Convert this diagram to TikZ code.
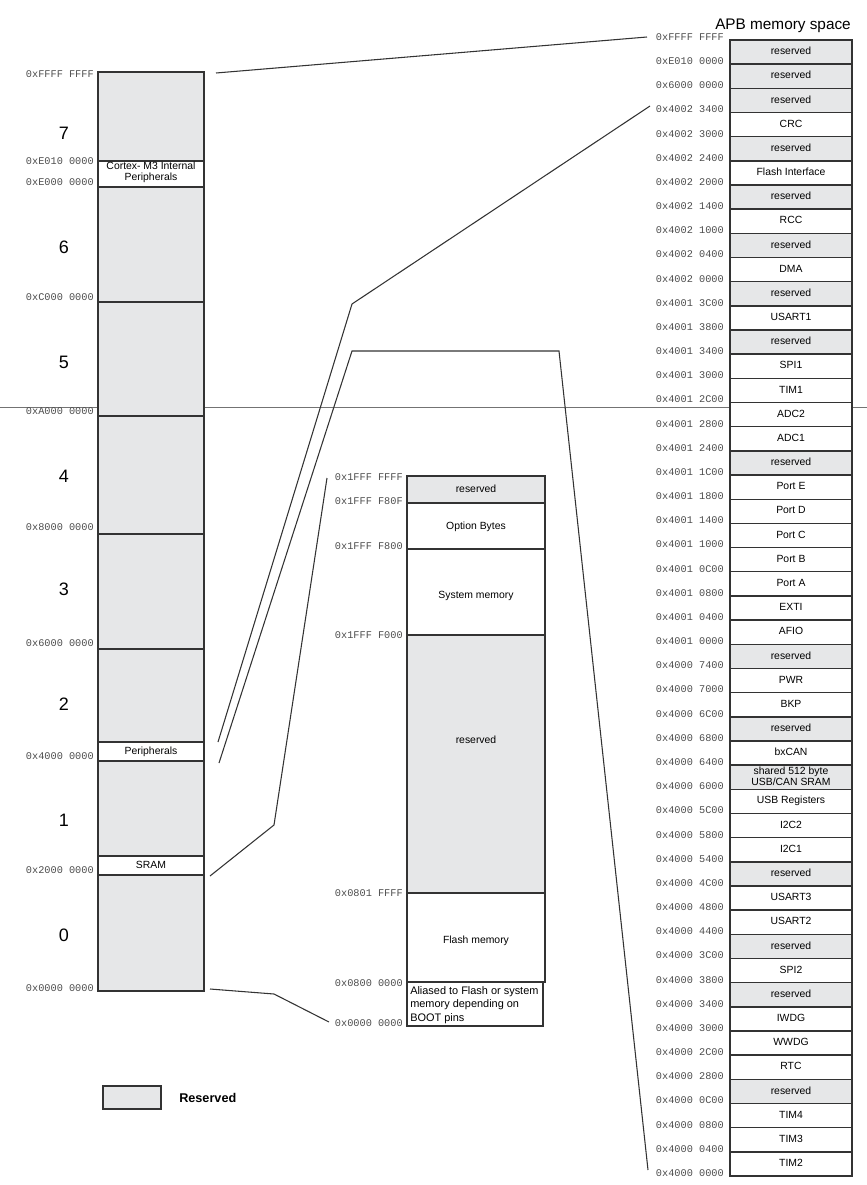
\documentclass[tikz,border=0pt]{standalone}
\usepackage{fontspec}
\setmainfont{Liberation Sans}
\newfontfamily\addrfont{Liberation Mono}
\definecolor{resvgray}{RGB}{230,231,232}
\newcommand{\usbsram}{shared 512 byte\\USB/CAN SRAM}

\tikzset{
  blk/.style={draw=black!80, line width=1.1},
  link/.style={draw=black!80, line width=0.8},
  addr/.style={anchor=east, inner sep=0.75pt, text=black!70, font=\addrfont\fontsize{7.7}{8}\selectfont},
  celltxt/.style={inner sep=0.75pt, align=center, font=\fontsize{7.8}{8.4}\selectfont},
  regnum/.style={inner sep=0.75pt, font=\fontsize{13.5}{15}\selectfont},
}

\begin{document}
\begin{tikzpicture}[x=0.75pt,y=0.75pt,yscale=-1,xscale=1]
\useasboundingbox (0,0) rectangle (867,1185);

%Straight Lines [id:scanline]
\draw [black!55, line width=0.6] (0,407) -- (867,407);

%Shapes: code memory map
\foreach \ytop/\ybot/\fc in {72/161/resvgray, 161/187/white, 187/302/resvgray, 302/416/resvgray, 416/534/resvgray, 534/649/resvgray, 649/742/resvgray, 742/761/white, 761/856/resvgray, 856/875/white, 875/991/resvgray}
  \draw [blk, fill=\fc] (98,\ytop) rectangle (204,\ybot);

% Text Node
\foreach \n/\y in {7/133, 6/247, 5/362, 4/476, 3/589, 2/704, 1/820, 0/935}
  \draw (64,\y) node [regnum] (reg\n) {\n};
\draw (151,172) node [celltxt] (cortex) {Cortex- M3 Internal\\Peripherals};
\draw (151,752) node [celltxt] (periph) {Peripherals};
\draw (151,865) node [celltxt] (sram) {SRAM};

% Text Node
\foreach \a/\y [count=\i] in {0xFFFF FFFF/74, 0xE010 0000/161, 0xE000 0000/182, 0xC000 0000/297, 0xA000 0000/411, 0x8000 0000/527, 0x6000 0000/643, 0x4000 0000/756, 0x2000 0000/870, 0x0000 0000/988}
  \draw (95,\y) node [addr] (mapaddr\i) {\a};

%Shapes: boot area
\foreach \ytop/\ybot/\fc in {476/503/resvgray, 503/549/white, 549/635/white, 635/893/resvgray, 893/982/white}
  \draw [blk, fill=\fc] (407,\ytop) rectangle (545,\ybot);
\draw [blk, fill=white] (407,982) rectangle (543,1026);

% Text Node
\draw (476,489) node [celltxt] (bootresv) {reserved};
\draw (476,527) node [celltxt] (optbytes) {Option Bytes};
\draw (476,596) node [celltxt] (sysmem) {System memory};
\draw (476,740) node [celltxt] (flashresv) {reserved};
\draw (476,941) node [celltxt] (flashmem) {Flash memory};
\draw (409,985) node [anchor=north west, inner sep=0.75pt, align=left, font=\fontsize{8.2}{10.1}\selectfont] (aliased) {Aliased to Flash or system\\memory depending on\\BOOT pins};

% Text Node
\foreach \a/\y [count=\i] in {0x1FFF FFFF/477, 0x1FFF F80F/501, 0x1FFF F800/546, 0x1FFF F000/635, 0x0801 FFFF/893, 0x0800 0000/983, 0x0000 0000/1023}
  \draw (404,\y) node [addr] (bootaddr\i) {\a};

%Shapes: APB memory space
\draw (852,26) node [anchor=east, inner sep=0.75pt, font=\fontsize{11.5}{13}\selectfont] (apbtitle) {APB memory space};
\foreach \fc/\txt [count=\i from 0] in {resvgray/reserved, resvgray/reserved, resvgray/reserved, white/CRC, resvgray/reserved, white/Flash Interface, resvgray/reserved, white/RCC, resvgray/reserved, white/DMA, resvgray/reserved, white/USART1, resvgray/reserved, white/SPI1, white/TIM1, white/ADC2, white/ADC1, resvgray/reserved, white/Port E, white/Port D, white/Port C, white/Port B, white/Port A, white/EXTI, white/AFIO, resvgray/reserved, white/PWR, white/BKP, resvgray/reserved, white/bxCAN, resvgray/\usbsram, white/USB Registers, white/I2C2, white/I2C1, resvgray/reserved, white/USART3, white/USART2, resvgray/reserved, white/SPI2, resvgray/reserved, white/IWDG, white/WWDG, white/RTC, resvgray/reserved, white/TIM4, white/TIM3, white/TIM2}
{
  \draw [blk, fill=\fc] (730,{40+24.17*\i}) rectangle (852,{40+24.17*(\i+1)});
  \draw (791,{40+24.17*(\i+0.5)-1}) node [celltxt] (apb\i) {\txt};
}

% Text Node
\foreach \a [count=\i from 0] in {0xFFFF FFFF, 0xE010 0000, 0x6000 0000, 0x4002 3400, 0x4002 3000, 0x4002 2400, 0x4002 2000, 0x4002 1400, 0x4002 1000, 0x4002 0400, 0x4002 0000, 0x4001 3C00, 0x4001 3800, 0x4001 3400, 0x4001 3000, 0x4001 2C00, 0x4001 2800, 0x4001 2400, 0x4001 1C00, 0x4001 1800, 0x4001 1400, 0x4001 1000, 0x4001 0C00, 0x4001 0800, 0x4001 0400, 0x4001 0000, 0x4000 7400, 0x4000 7000, 0x4000 6C00, 0x4000 6800, 0x4000 6400, 0x4000 6000, 0x4000 5C00, 0x4000 5800, 0x4000 5400, 0x4000 4C00, 0x4000 4800, 0x4000 4400, 0x4000 3C00, 0x4000 3800, 0x4000 3400, 0x4000 3000, 0x4000 2C00, 0x4000 2800, 0x4000 0C00, 0x4000 0800, 0x4000 0400, 0x4000 0000}
  \draw (725,{40+24.17*\i-3}) node [addr] (apbaddr\i) {\a};

%Straight Lines: zoom connectors
\coordinate (toptail) at (216,73);
\coordinate (tophead) at (647,37);
\coordinate (pertail) at (218,742);
\coordinate (perbend) at (352,304);
\coordinate (perhead) at (650,106);
\coordinate (pbtail) at (219,763);
\coordinate (pbbend) at (352,351);
\coordinate (pbturn) at (559,351);
\coordinate (pbhead) at (648,1170);
\coordinate (sramtail) at (210,876);
\coordinate (srambend) at (274,825);
\coordinate (sramhead) at (327,478);
\coordinate (bottail) at (210,989);
\coordinate (botbend) at (274,994);
\coordinate (bothead) at (329,1022);
\draw [link] (toptail) -- (tophead);
\draw [link] (pertail) -- (perbend) -- (perhead);
\draw [link] (pbtail) -- (pbbend) -- (pbturn) -- (pbhead);
\draw [link] (sramtail) -- (srambend) -- (sramhead);
\draw [link] (bottail) -- (botbend) -- (bothead);

%Shape: legend
\draw [blk, fill=resvgray] (103,1086) rectangle (161,1109);
\draw (178,1098) node [anchor=west, inner sep=0.75pt, font=\bfseries\fontsize{9.5}{11}\selectfont] (legendtxt) {Reserved};

\end{tikzpicture}
\end{document}
